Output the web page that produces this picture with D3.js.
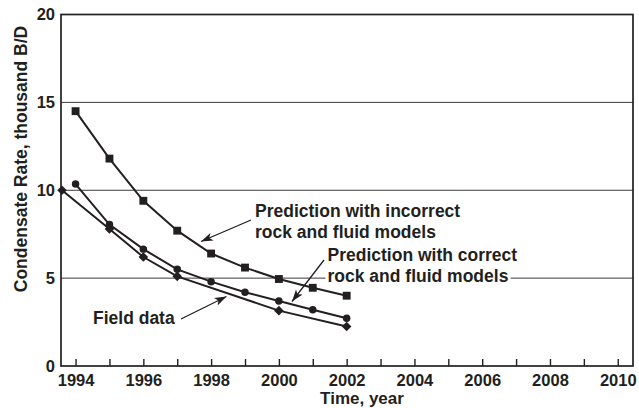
<!DOCTYPE html>
<html>
<head>
<meta charset="utf-8">
<script src="https://cdn.jsdelivr.net/npm/d3@7"></script>
<style>
  html, body { margin: 0; padding: 0; background: #fff; }
  svg { display: block; font-family: "Liberation Sans", Arial, Helvetica, sans-serif; font-weight: bold; }
</style>
</head>
<body>
<svg id="chart" width="639" height="408"></svg>
<script>
// Condensate rate history: field data vs. two model predictions
const predYears = [1994, 1995, 1996, 1997, 1998, 1999, 2000, 2001, 2002];
const incorrectModel = [14.5, 11.8, 9.4, 7.7, 6.4, 5.6, 4.95, 4.45, 4.0];
const correctModel = [10.35, 8.05, 6.65, 5.5, 4.8, 4.2, 3.7, 3.2, 2.72];
const fieldYears = [1993.6, 1995, 1996, 1997, 2000, 2002];
const fieldRate = [10.0, 7.8, 6.2, 5.1, 3.15, 2.25];

const xTicks = d3.range(1994, 2011, 1);
const xLabels = [1994, 1996, 1998, 2000, 2002, 2004, 2006, 2008, 2010];
const yTicks = [0, 5, 10, 15, 20];
const yGrid = [5, 10, 15];

const ink = "#231f20";
const svg = d3.select("#chart");
const plotL = 61, plotR = 633, plotT = 14.5, plotB = 366;

const x = d3.scaleLinear().domain([1993.57, 2010.45]).range([plotL, plotR]);
const y = d3.scaleLinear().domain([0, 20]).range([plotB, plotT]);

// horizontal grid
svg.append("g").selectAll("line").data(yGrid).join("line")
  .attr("x1", plotL).attr("x2", plotR)
  .attr("y1", d => y(d)).attr("y2", d => y(d))
  .attr("stroke", "#3a3a3a").attr("stroke-width", 1);

// annotations (white backing hides the grid behind the text)
const notes = [
  { lines: ["Prediction with incorrect", "rock and fluid models"], x: 255, y: 217, from: [251, 220], to: [201, 241.5] },
  { lines: ["Prediction with correct", "rock and fluid models"], x: 327.5, y: 261, from: [324, 260], to: [292, 301.5] },
  { lines: ["Field data"], x: 93, y: 324, from: [181, 319], to: [226.5, 296.5] }
];
const noteBg = svg.append("g");
const noteText = svg.append("g");
notes.forEach(n => {
  n.lines.forEach((t, i) => {
    const txt = noteText.append("text")
      .attr("x", n.x).attr("y", n.y + i * 20.5)
      .attr("font-size", 17.5).attr("fill", ink).text(t);
    const b = txt.node().getBBox();
    noteBg.append("rect")
      .attr("x", b.x - 2).attr("y", b.y + 2).attr("width", b.width + 4).attr("height", b.height - 4)
      .attr("fill", "#fff");
  });
});

// x axis with inward ticks
const xAxis = d3.axisBottom(x).tickValues(xTicks).tickSizeInner(-7).tickSizeOuter(0).tickPadding(8)
  .tickFormat(d => xLabels.includes(d) ? d3.format("d")(d) : "");
const gx = svg.append("g").attr("transform", `translate(0,${plotB})`).call(xAxis);
gx.select(".domain").remove();
gx.selectAll(".tick line").attr("stroke", ink).attr("stroke-width", 1.4);
gx.selectAll(".tick text").attr("fill", ink).attr("font-size", 16.5)
  .attr("font-family", "Liberation Sans, Arial, sans-serif").attr("font-weight", "bold");

// y axis labels
const yAxis = d3.axisLeft(y).tickValues(yTicks).tickSize(0).tickPadding(6).tickFormat(d3.format("d"));
const gy = svg.append("g").attr("transform", `translate(${plotL},0)`).call(yAxis);
gy.select(".domain").remove();
gy.selectAll(".tick text").attr("fill", ink).attr("font-size", 16.5)
  .attr("font-family", "Liberation Sans, Arial, sans-serif").attr("font-weight", "bold");

// plot frame
svg.append("rect").attr("x", plotL).attr("y", plotT).attr("width", plotR - plotL).attr("height", plotB - plotT)
  .attr("fill", "none").attr("stroke", ink).attr("stroke-width", 1.7);

// axis titles
svg.append("text").attr("x", 362).attr("y", 404).attr("text-anchor", "middle")
  .attr("font-size", 17).attr("fill", ink).text("Time, year");
svg.append("text").attr("transform", "translate(27,159) rotate(-90)").attr("text-anchor", "middle")
  .attr("font-size", 17.5).attr("fill", ink).text("Condensate Rate, thousand B/D");

// series lines; diamonds are squares turned 45 degrees
const line = d3.line().x(d => x(d[0])).y(d => y(d[1]));
const series = [
  { pts: d3.zip(predYears, incorrectModel), shape: d3.symbolSquare, size: 62, rot: 0 },
  { pts: d3.zip(predYears, correctModel), shape: d3.symbolCircle, size: 44, rot: 0 },
  { pts: d3.zip(fieldYears, fieldRate), shape: d3.symbolSquare, size: 46, rot: 45 }
];
series.forEach(s => {
  svg.append("path").datum(s.pts).attr("d", line)
    .attr("fill", "none").attr("stroke", ink).attr("stroke-width", 2);
  svg.append("g").selectAll("path").data(s.pts).join("path")
    .attr("transform", d => `translate(${x(d[0])},${y(d[1])}) rotate(${s.rot})`)
    .attr("d", d3.symbol().type(s.shape).size(s.size))
    .attr("fill", ink);
});

// leader arrows
svg.append("defs").append("marker")
  .attr("id", "head").attr("viewBox", "-12 -5 13 10").attr("refX", 0).attr("refY", 0)
  .attr("markerWidth", 13).attr("markerHeight", 10).attr("markerUnits", "userSpaceOnUse")
  .attr("orient", "auto")
  .append("path").attr("d", "M0,0 L-12,-4.2 L-9,0 L-12,4.2 Z").attr("fill", ink);
notes.forEach(n => {
  svg.append("line")
    .attr("x1", n.from[0]).attr("y1", n.from[1]).attr("x2", n.to[0]).attr("y2", n.to[1])
    .attr("stroke", ink).attr("stroke-width", 1.3).attr("marker-end", "url(#head)");
});
</script>
</body>
</html>
